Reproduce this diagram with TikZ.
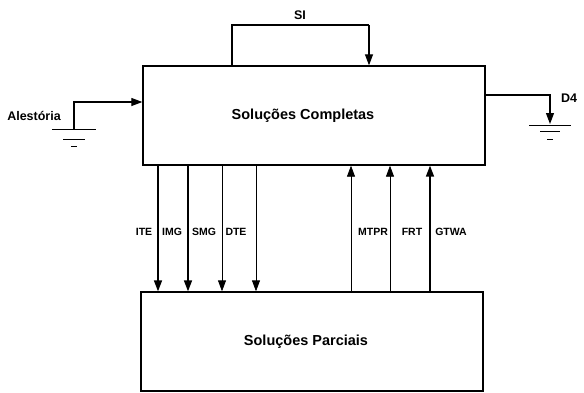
\documentclass[tikz,border=0pt]{standalone}
\usepackage{fontspec}
\setmainfont{Liberation Sans}
\usetikzlibrary{positioning,calc,arrows.meta}

\begin{document}
\begin{tikzpicture}[x=1pt, y=-1pt,
  block/.style={draw=black, line width=1.3pt, minimum width=342pt, minimum height=99pt, inner sep=0pt, font=\fontsize{14.5}{17}\selectfont\bfseries},
  arrow/.style={-{Triangle[length=11pt,width=8pt]}, draw=black, line width=0.8pt},
  heavy/.style={arrow, line width=1.6pt},
  tag/.style={inner sep=0pt, font=\fontsize{10.5}{12}\selectfont\bfseries},
  sidetag/.style={inner sep=0pt, font=\fontsize{12.5}{15}\selectfont\bfseries},
  earth/.style={draw=black, line width=1pt}]
\useasboundingbox (0,0) rectangle (584,392);
\node[block] (complete) at (314,115.5) {\hspace*{-22pt}Soluções Completas};
\node[block] (partial) at (312,341.5) {\hspace*{-12pt}Soluções Parciais};
% laco SI
\coordinate (siL) at (232,25);
\coordinate (siR) at (369,25);
\node[sidetag] (si) at (300,15) {SI};
\draw[line width=1.1pt] (complete.north -| siL) -- (siL) -- (siR);
\draw[arrow, line width=1.1pt] (siR) -- (complete.north -| siR);
% entrada aleatoria
\node[sidetag] (random) at (34,116) {Alestória};
\coordinate (gndL) at (74,129);
\draw[arrow, line width=1.1pt] (gndL) -- (74,102) -- (complete.west |- 0,102);
\draw[earth] (gndL) ++(-22,0) -- ++(44,0);
\draw[earth] (gndL) ++(-11,10) -- ++(22,0);
\draw[earth] (gndL) ++(-3,17) -- ++(6,0);
% saida D4
\coordinate (gndR) at (550,124);
\node[sidetag] (out) at (569,98) {D4};
\draw[arrow, line width=1.1pt] (complete.east |- 0,95) -- (550,95) -- (gndR);
\draw[earth] (gndR) ++(-21,1) -- ++(42,0);
\draw[earth] (gndR) ++(-10,7) -- ++(20,0);
\draw[earth] (gndR) ++(-3,15) -- ++(6,0);
% descendo
\draw[heavy] (158,0 |- complete.south) -- (158,0 |- partial.north);
\draw[heavy] (188,0 |- complete.south) -- (188,0 |- partial.north);
\draw[arrow] (222,0 |- complete.south) -- (222,0 |- partial.north);
\draw[arrow] (256,0 |- complete.south) -- (256,0 |- partial.north);
% subindo
\draw[arrow] (351,0 |- partial.north) -- (351,0 |- complete.south);
\draw[arrow] (390,0 |- partial.north) -- (390,0 |- complete.south);
\draw[heavy] (430,0 |- partial.north) -- (430,0 |- complete.south);
% rotulos
\node[tag] (ite) at (144,232) {ITE};
\node[tag] (img) at (172,232) {IMG};
\node[tag] (smg) at (204,232) {SMG};
\node[tag] (dte) at (236,232) {DTE};
\node[tag] (mtpr) at (373,232) {MTPR};
\node[tag] (frt) at (412,232) {FRT};
\node[tag] (gtwa) at (451,232) {GTWA};
\end{tikzpicture}
\end{document}
